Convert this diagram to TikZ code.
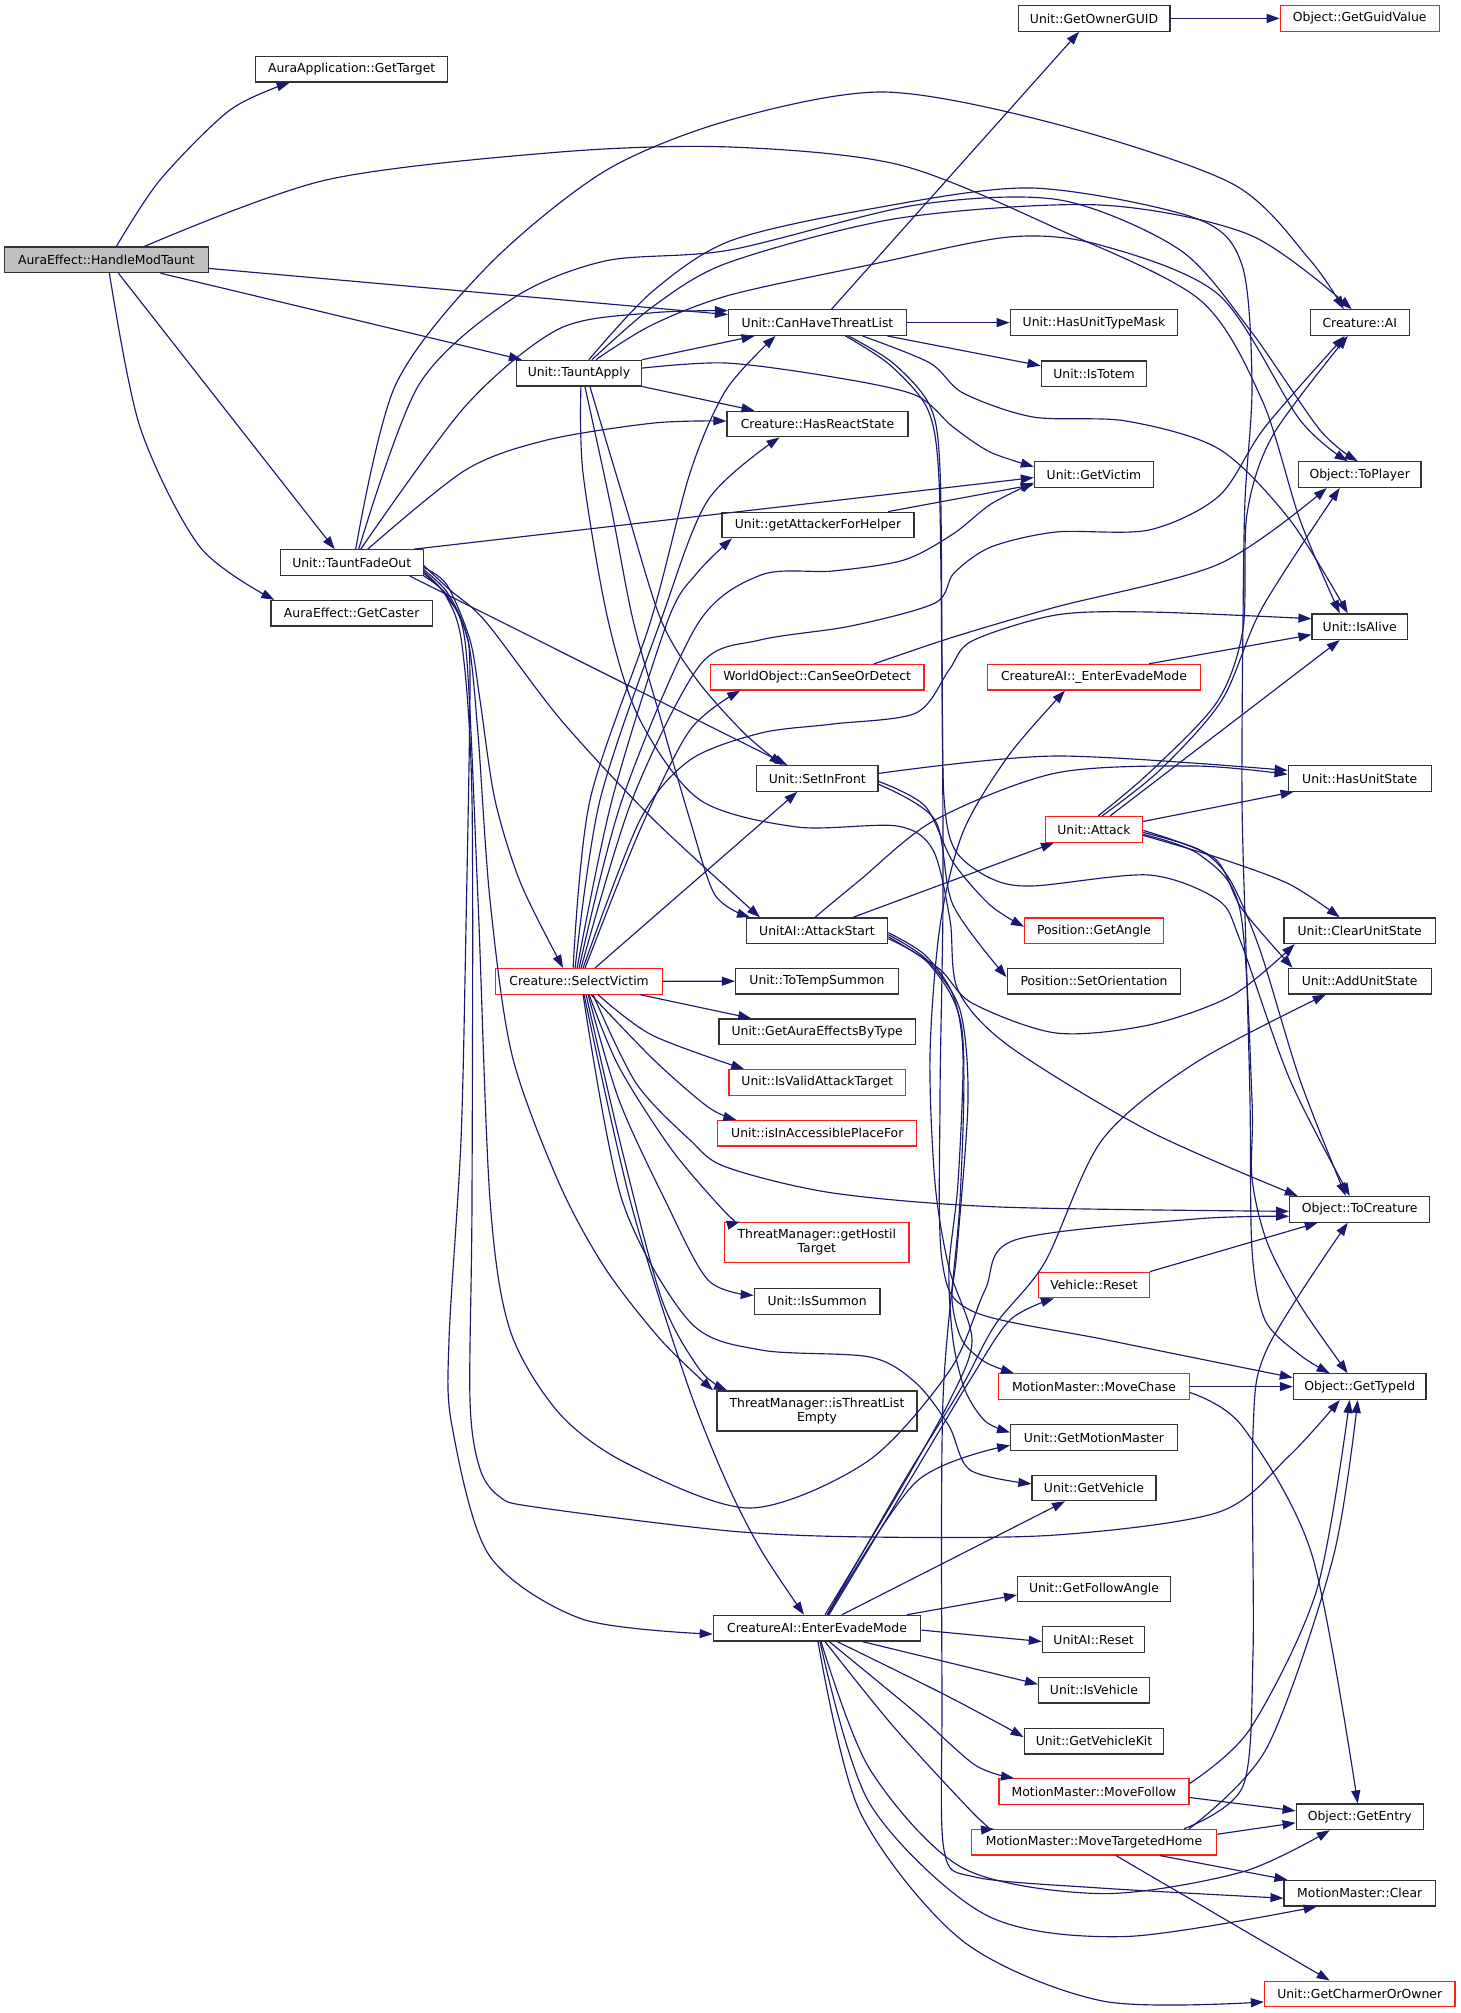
\documentclass[tikz,border=0pt]{standalone}
\usepackage{fontspec}
\setmainfont{DejaVu Sans}
\usetikzlibrary{arrows.meta}
\definecolor{edgec}{RGB}{25,25,112}
\definecolor{boxred}{RGB}{255,30,30}
\definecolor{boxgray}{RGB}{191,191,191}
\begin{document}
\begin{tikzpicture}[x=1pt,y=-1pt,
  fn/.style={draw=black!80,line width=1.2pt,fill=white,rectangle,inner sep=0pt,minimum height=25.6pt,font=\fontsize{12.4}{13.5}\selectfont,align=center},
  trunc/.style={fn,draw=boxred},
  e/.style={draw=edgec,line width=1.15pt,-{Triangle[length=13pt,width=9pt]}}]
\fill[white] (0,0) rectangle (1461,2013);
\useasboundingbox (0,0) rectangle (1461,2013);
% rank 0 and 1
\node[fn,fill=boxgray,minimum width=203.4pt] (H) at (106.4,259.8) {AuraEffect::HandleModTaunt};
\node[fn,minimum width=192.3pt] (gt) at (351.7,69.2) {AuraApplication::GetTarget};
\node[fn,minimum width=143pt] (tfo) at (351.7,562.6) {Unit::TauntFadeOut};
\node[fn,minimum width=161.5pt] (gc) at (351.7,613.2) {AuraEffect::GetCaster};
% rank 2
\node[fn,minimum width=125.2pt] (ta) at (578.9,373.1) {Unit::TauntApply};
\node[trunc,minimum width=166.7pt] (sv) at (579.1,981.3) {Creature::SelectVictim};
% rank 3
\node[fn,minimum width=178pt] (chtl) at (817.5,322.6) {Unit::CanHaveThreatList};
\node[fn,minimum width=181pt] (hrs) at (817.5,424) {Creature::HasReactState};
\node[fn,minimum width=192pt] (gafh) at (818,525) {Unit::getAttackerForHelper};
\node[trunc,minimum width=213.6pt] (csod) at (817.2,677.2) {WorldObject::CanSeeOrDetect};
\node[fn,minimum width=121.5pt] (sif) at (817.3,778.4) {Unit::SetInFront};
\node[fn,minimum width=141.5pt] (as) at (817,930.7) {UnitAI::AttackStart};
\node[fn,minimum width=163pt] (tts) at (817,981.2) {Unit::ToTempSummon};
\node[fn,minimum width=196.4pt] (gaebt) at (817.2,1031.7) {Unit::GetAuraEffectsByType};
\node[trunc,minimum width=176.4pt] (ivat) at (817.2,1082.5) {Unit::IsValidAttackTarget};
\node[trunc,minimum width=199pt] (iiapf) at (817.3,1133.2) {Unit::isInAccessiblePlaceFor};
\node[trunc,minimum width=184.4pt,minimum height=40pt] (ght) at (816.8,1242.3) {ThreatManager::getHostil\\Target};
\node[fn,minimum width=125.7pt] (issum) at (817.1,1301.3) {Unit::IsSummon};
\node[fn,minimum width=200pt,minimum height=40pt] (itle) at (817,1410.9) {ThreatManager::isThreatList\\Empty};
\node[fn,minimum width=207.5pt] (eem) at (817,1628.1) {CreatureAI::EnterEvadeMode};
% rank 4
\node[fn,minimum width=151.8pt] (gog) at (1094,18.4) {Unit::GetOwnerGUID};
\node[fn,minimum width=167.6pt] (hutm) at (1094,322.6) {Unit::HasUnitTypeMask};
\node[fn,minimum width=105.7pt] (totem) at (1094,373.7) {Unit::IsTotem};
\node[fn,minimum width=119.2pt] (gv) at (1094,474.6) {Unit::GetVictim};
\node[trunc,minimum width=212.7pt] (ueem) at (1094,677.2) {CreatureAI::\_EnterEvadeMode};
\node[trunc,minimum width=97.3pt] (attack) at (1094,829.4) {Unit::Attack};
\node[trunc,minimum width=138.7pt] (angle) at (1094,930.7) {Position::GetAngle};
\node[fn,minimum width=173.7pt] (orient) at (1094,981.2) {Position::SetOrientation};
\node[trunc,minimum width=110.8pt] (vreset) at (1094,1285) {Vehicle::Reset};
\node[trunc,minimum width=191pt] (chase) at (1094,1386.6) {MotionMaster::MoveChase};
\node[fn,minimum width=166.7pt] (gmm) at (1094,1437.4) {Unit::GetMotionMaster};
\node[fn,minimum width=124pt] (gveh) at (1094,1487.9) {Unit::GetVehicle};
\node[fn,minimum width=152.7pt] (gfa) at (1094,1589) {Unit::GetFollowAngle};
\node[fn,minimum width=102.4pt] (uareset) at (1093.6,1639.5) {UnitAI::Reset};
\node[fn,minimum width=110.8pt] (isveh) at (1094,1690.2) {Unit::IsVehicle};
\node[fn,minimum width=139.7pt] (gvk) at (1094,1741.1) {Unit::GetVehicleKit};
\node[trunc,minimum width=190pt] (follow) at (1094,1791.5) {MotionMaster::MoveFollow};
\node[trunc,minimum width=245.3pt] (mth) at (1094,1842.2) {MotionMaster::MoveTargetedHome};
% rank 5
\node[trunc,minimum width=158.8pt] (ggv) at (1359.7,18.4) {Object::GetGuidValue};
\node[fn,minimum width=99.2pt] (ai) at (1359.7,322.6) {Creature::AI};
\node[fn,minimum width=122.5pt] (toplayer) at (1359.7,474.6) {Object::ToPlayer};
\node[fn,minimum width=95.4pt] (alive) at (1359.7,626.7) {Unit::IsAlive};
\node[fn,minimum width=143pt] (hus) at (1359.7,778.4) {Unit::HasUnitState};
\node[fn,minimum width=151.3pt] (cus) at (1359.7,930.7) {Unit::ClearUnitState};
\node[fn,minimum width=143pt] (aus) at (1359.7,981.2) {Unit::AddUnitState};
\node[fn,minimum width=140.2pt] (tocre) at (1359.7,1209.3) {Object::ToCreature};
\node[fn,minimum width=132.7pt] (typeid) at (1359.7,1386.6) {Object::GetTypeId};
\node[fn,minimum width=127pt] (entry) at (1359.7,1816.8) {Object::GetEntry};
\node[fn,minimum width=151.3pt] (mmclear) at (1359.7,1893.2) {MotionMaster::Clear};
\node[trunc,minimum width=190.4pt] (gcoo) at (1359.7,1993.9) {Unit::GetCharmerOrOwner};

% ---- edges from HandleModTaunt
\draw[e] plot[smooth] coordinates {([xshift=10pt]H.north) (160,180) (230,110) ([xshift=-62pt]gt.south)};
\draw[e] plot[smooth] coordinates {([xshift=38pt]H.north) (326,180) (560,152) (730,147) (900,165) (1060,230) (1200,300) (1262,400) (1300,520) ([xshift=-20pt]alive.north)};
\draw[e] ([yshift=-8.6pt]H.east) -- ([yshift=8pt]chtl.west);
\draw[e] ([xshift=54pt]H.south) -- ([xshift=-57pt]ta.north);
\draw[e] ([xshift=12pt]H.south) -- ([xshift=-17pt]tfo.north);
\draw[e] plot[smooth] coordinates {([xshift=3pt]H.south) (140,427) (200,547) ([xshift=4pt]gc.north west)};

% ---- edges from TauntApply
\draw[e] (ta.north east) -- ([xshift=-63pt]chtl.south);
\draw[e] (ta.south east) -- ([xshift=-63pt]hrs.north);
\draw[e] plot[smooth] coordinates {([yshift=5pt]ta.east) (726,363) (833,377) (915,395) (953,427) (990,452) ([yshift=8pt]gv.west)};
\draw[e] plot[smooth] coordinates {([xshift=17pt]ta.north) (651.8,325) (730,295) (869,265) (1009,237) (1100,245) (1219,295) (1300,420) ([xshift=-12pt]toplayer.north)};
\draw[e] plot[smooth] coordinates {([xshift=13pt]ta.north) (655,305) (730,262) (900,218) (1100,205) (1250,235) ([xshift=-8pt]ai.north)};
\draw[e] plot[smooth] coordinates {([xshift=10pt]ta.north) (651.8,292) (730,241) (870,209) (1032,188) (1195,218) (1242,265) (1252,385) (1245,500) (1243,620) (1242,800) (1246,950) (1250,1100) (1252,1250) (1265,1320) (1300,1355) ([xshift=-30pt]typeid.north)};
\draw[e] plot[smooth] coordinates {([xshift=11pt]ta.south) (626,507) (661,620) (697,680) (744,733) ([xshift=-35pt]sif.north)};
\draw[e] plot[smooth] coordinates {([xshift=6pt]ta.south) (611,507) (633,620) (661,720) (690,820) (715,895) ([xshift=-67pt]as.north)};
\draw[e] plot[smooth] coordinates {([xshift=2pt]ta.south) (583,473) (608,620) (640,720) (700,800) (797,827) (897,826) (933,850) (950,920) (958,990) (1009,1046) (1149,1131) ([xshift=-62pt]tocre.north)};

% ---- edges from TauntFadeOut
\draw[e] plot[smooth] coordinates {([xshift=4pt]tfo.north) (395.7,384.6) (488.8,265) (605,171) (730,120) (883.6,92) (1056,124) (1232.8,184) (1310,260) ([xshift=-16pt]ai.north)};
\draw[e] plot[smooth] coordinates {([xshift=7pt]tfo.north) (419,384.6) (512,299) (605,261) (730,250) (916,205) (1060,200) (1180,250) (1250,330) (1320,430) ([xshift=-2pt]toplayer.north)};
\draw[e] plot[smooth] coordinates {([xshift=9pt]tfo.north) (465.5,406) (558.7,329) (650,313) ([yshift=12pt]chtl.west)};
\draw[e] plot[smooth] coordinates {([xshift=16pt]tfo.north) (465.5,470) (547,440) (654,423) ([yshift=3pt]hrs.west)};
\draw[e] ([xshift=62pt]tfo.north) -- ([yshift=-3pt]gv.west);
\draw[e] ([xshift=58pt]tfo.south) -- ([xshift=-30pt]sif.north);
\draw[e] plot[smooth] coordinates {([yshift=-5pt]tfo.east) (447,585) (470,640) (480,700) (495,800) (521,884) ([xshift=-16pt]sv.north)};
\draw[e] plot[smooth] coordinates {([yshift=-3pt]tfo.east) (450,590) (486,622) (561,720) (654,820) ([xshift=-57pt]as.north)};
\draw[e] plot[smooth] coordinates {(tfo.south east) (447,595) (468,640) (478,734) (490,900) (512,1055) (559,1183) (605,1268) (661,1340) ([xshift=-104pt]itle.north)};
\draw[e] plot[smooth] coordinates {([yshift=-7pt]tfo.east) (447,592) (465,630) (470,680) (466,926) (461,1140) (449,1340) (452,1426) (489,1555) (582,1619) ([yshift=-6pt]eem.west)};
\draw[e] plot[smooth] coordinates {([yshift=-9pt]tfo.east) (446,596) (462,645) (472,800) (472,1200) (470,1400) (480,1469) (500,1497) (535,1507) (730,1531) (870,1537) (1056,1535) (1219,1512) (1289,1456) ([xshift=-20pt]typeid.south)};
\draw[e] plot[smooth] coordinates {([yshift=-11pt]tfo.east) (448,598) (466,650) (478,900) (490,1200) (510,1330) (559,1413) (628,1464) (750,1508) (868,1461) (950,1370) (985,1290) (1015,1240) (1195,1219) ([yshift=-7pt]tocre.west)};

% ---- edges from SelectVictim
\draw[e] plot[smooth] coordinates {([xshift=-6pt]sv.north) (590,800) (651,620) (690,473) (726,390) ([xshift=-42pt]chtl.south)};
\draw[e] plot[smooth] coordinates {([xshift=-4pt]sv.north) (600,800) (661,620) (708,500) ([xshift=-38pt]hrs.south)};
\draw[e] plot[smooth] coordinates {([xshift=-2pt]sv.north) (612,800) (668,620) (697,573) ([xshift=-86pt]gafh.south)};
\draw[e] plot[smooth] coordinates {(sv.north) (622,800) (697,625) (761,575) (833,571) (904,560) (953,534) (991,504) ([yshift=-8pt]gv.west)};
\draw[e] plot[smooth] coordinates {([xshift=2pt]sv.north) (632,800) (700,665) (760,640) (851,626) (935,603) (954,573) (991,547) (1056,532) (1149,530) (1219,496) (1265,427) ([xshift=-15pt]ai.south)};
\draw[e] plot[smooth] coordinates {([xshift=4pt]sv.north) (640,820) (690,760) (761,733) (833,724) (916,713) (949,670) (972,641) (1056,615) (1149,612) ([yshift=8pt]alive.west)};
\draw[e] plot[smooth] coordinates {([xshift=6pt]sv.north) (640,830) (690,730) ([xshift=-77pt]csod.south)};
\draw[e] ([xshift=16pt]sv.north) -- ([xshift=-20pt]sif.south);
\draw[e] (sv.east) -- (tts.west);
\draw[e] ([xshift=61pt]sv.south) -- ([xshift=-66pt]gaebt.north);
\draw[e] plot[smooth] coordinates {([xshift=19pt]sv.south) (651.8,1035) ([xshift=-73pt]ivat.north)};
\draw[e] plot[smooth] coordinates {([xshift=12pt]sv.south) (654,1060) (708,1107) ([xshift=-81pt]iiapf.north)};
\draw[e] plot[smooth] coordinates {([xshift=10pt]sv.south) (619,1067) (672,1150) (726,1213) ([xshift=-77pt]ght.north)};
\draw[e] plot[smooth] coordinates {([xshift=9pt]sv.south) (619,1100) (665,1200) (708,1280) ([yshift=6pt]issum.west)};
\draw[e] plot[smooth] coordinates {([xshift=7pt]sv.south) (622,1150) (662,1300) (700,1370) ([xshift=-90pt]itle.north)};
\draw[e] plot[smooth] coordinates {([xshift=5pt]sv.south) (630,1200) (686,1380) (726,1481) (761,1550) ([xshift=-13pt]eem.north)};
\draw[e] plot[smooth] coordinates {([xshift=4pt]sv.south) (622,1200) (690,1322) (761,1350) (870,1357) (916,1383) (949,1426) (970,1470) ([yshift=4pt]gveh.west)};
\draw[e] plot[smooth] coordinates {([xshift=14pt]sv.south) (636,1083) (690,1140) (726,1167) (833,1193) (1000,1207) ([yshift=-2pt]tocre.west)};

% ---- edges from CanHaveThreatList
\draw[e] (chtl.east) -- (hutm.west);
\draw[e] ([xshift=70pt]chtl.south) -- ([yshift=8pt]totem.west);
\draw[e] ([xshift=14pt]chtl.north) -- ([xshift=-15pt]gog.south);
\draw[e] plot[smooth] coordinates {([xshift=45pt]chtl.south) (930,363) (963,393) (1033,417) (1126,421) (1219,449) (1290,520) ([xshift=-12pt]alive.north)};
\draw[e] plot[smooth] coordinates {([xshift=31pt]chtl.south) (893,363) (930,406) (940,470) (942,670) (943,900) (940,1100) (942,1260) (972,1311) (1107,1340) ([yshift=9pt]typeid.west)};
\draw[e] plot[smooth] coordinates {([xshift=28pt]chtl.south) (890,365) (928,410) (939,480) (942,670) (944,798) (955,850) (990,878) (1032,886) (1149,875) (1218,900) (1240,940) (1290,1080) ([xshift=-10pt]tocre.north)};

% ---- misc
\draw[e] (gog.east) -- (ggv.west);
\draw[e] ([xshift=70pt]gafh.north) -- ([yshift=-10pt]gv.west);
\draw[e] plot[smooth] coordinates {([xshift=57pt]csod.north) (953.5,637) (1056,607) (1219,564) ([xshift=-33pt]toplayer.south)};

% ---- SetInFront
\draw[e] plot[smooth] coordinates {([yshift=5pt]sif.east) (1056,756) ([yshift=8pt]hus.west)};
\draw[e] plot[smooth] coordinates {([yshift=-3pt]sif.east) (925,806) (953,862) (990,905) ([yshift=4pt]angle.west)};
\draw[e] plot[smooth] coordinates {([yshift=-6pt]sif.east) (935,820) (953,905) ([yshift=4pt]orient.west)};

% ---- AttackStart
\draw[e] ([xshift=36pt]as.north) -- ([xshift=-40pt]attack.south);
\draw[e] plot[smooth] coordinates {([xshift=-2pt]as.north) (860,880) (935,820) (1056,773) (1195,766) ([yshift=4pt]hus.west)};
\draw[e] plot[smooth] coordinates {([yshift=-6pt]as.east) (939.5,969) (972,1003) (1056,1033) (1149,1025) (1233,995) ([xshift=-65pt]cus.south)};
\draw[e] plot[smooth] coordinates {([yshift=-2pt]as.east) (925,955) (953,995) (963,1055) (958,1183) (949,1268) (953,1340) (965,1390) (985,1421) ([yshift=5pt]gmm.west)};
\draw[e] plot[smooth] coordinates {([yshift=-4pt]as.east) (927,960) (960,1010) (968,1100) (957,1250) (952,1300) (962,1340) (985,1362) ([xshift=-80pt]chase.north)};
\draw[e] plot[smooth] coordinates {([yshift=-8pt]as.east) (930,965) (962,1030) (960,1200) (943,1400) (942,1700) (944,1850) (975,1877) (1100,1888) ([yshift=-5pt]mmclear.west)};

% ---- Attack
\draw[e] plot[smooth] coordinates {([xshift=4pt]attack.north) (1150,772) (1217,702) (1243,629) (1247,514) (1273,435) ([xshift=-12pt]ai.south)};
\draw[e] plot[smooth] coordinates {([xshift=8pt]attack.north) (1160,770) (1222,700) (1262,608) ([xshift=-20pt]toplayer.south)};
\draw[e] ([xshift=16pt]attack.north) -- ([xshift=-20pt]alive.south);
\draw[e] ([yshift=8pt]attack.east) -- ([xshift=6pt]hus.south west);
\draw[e] plot[smooth] coordinates {([yshift=-6pt]attack.east) (1219,858) (1289,884) ([xshift=-20pt]cus.north)};
\draw[e] plot[smooth] coordinates {([yshift=-1pt]attack.east) (1214,858) (1242,909) ([xshift=5pt]aus.north west)};
\draw[e] plot[smooth] coordinates {([yshift=-3pt]attack.east) (1200,850) (1230,880) (1260,950) (1300,1080) ([xshift=-14pt]tocre.north)};
\draw[e] plot[smooth] coordinates {([yshift=-5pt]attack.east) (1200,855) (1240,910) (1252,1100) (1252,1178) (1267,1242) (1300,1305) ([xshift=-12pt]typeid.north)};

% ---- _EnterEvadeMode
\draw[e] ([xshift=55pt]ueem.north) -- ([yshift=-8pt]alive.west);

% ---- EnterEvadeMode
\draw[e] plot[smooth] coordinates {([xshift=8pt]eem.north) (900,1490) (950,1400) (972,1340) (949,1268) (935,1183) (930,1055) (940,926) (963,832) (1009,755) ([xshift=-29pt]ueem.south)};
\draw[e] plot[smooth] coordinates {([xshift=10pt]eem.north) (904,1481) (960,1390) (995,1325) (1045,1262) (1102,1140) (1195,1063) ([xshift=-34pt]aus.south)};
\draw[e] plot[smooth] coordinates {([xshift=12pt]eem.north) (910,1480) (970,1380) (1010,1320) ([xshift=-40pt]vreset.south)};
\draw[e] plot[smooth] coordinates {([xshift=11pt]eem.north) (916,1482) ([yshift=-8pt]gmm.west)};
\draw[e] ([xshift=25pt]eem.north) -- ([xshift=-29pt]gveh.south);
\draw[e] ([xshift=90pt]eem.north) -- ([yshift=-6pt]gfa.west);
\draw[e] ([yshift=-2pt]eem.east) -- ([yshift=-2pt]uareset.west);
\draw[e] ([xshift=45pt]eem.south) -- ([yshift=6pt]isveh.west);
\draw[e] plot[smooth] coordinates {([xshift=20pt]eem.south) (939.5,1692) (1000,1724) ([yshift=4pt]gvk.west)};
\draw[e] plot[smooth] coordinates {([xshift=12pt]eem.south) (916,1713) (975,1765) ([xshift=-80pt]follow.north)};
\draw[e] plot[smooth] coordinates {([xshift=8pt]eem.south) (893,1726) (975,1815) ([xshift=-100pt]mth.north)};
\draw[e] plot[smooth] coordinates {([xshift=4pt]eem.south) (869.7,1769) (962.8,1868) (1102.5,1893.6) (1242,1872) ([xshift=-30pt]entry.south)};
\draw[e] plot[smooth] coordinates {([xshift=3pt]eem.south) (869.7,1803.5) (986,1915) (1125.7,1936.5) ([xshift=-43pt]mmclear.south)};
\draw[e] plot[smooth] coordinates {([xshift=1pt]eem.south) (860,1812) (962.8,1941) (1102.5,2001) ([yshift=-8pt]gcoo.west)};

% ---- motion master etc
\draw[e] (chase.east) -- (typeid.west);
\draw[e] plot[smooth] coordinates {([yshift=-6pt]chase.east) (1242,1426) (1312,1555) ([xshift=-2pt]entry.north)};
\draw[e] plot[smooth] coordinates {([yshift=8pt]follow.east) (1250,1729) (1316.7,1590) ([xshift=-10pt]typeid.south)};
\draw[e] ([yshift=-6pt]follow.east) -- ([yshift=6pt]entry.west);
\draw[e] plot[smooth] coordinates {([xshift=95pt]mth.north) (1266.7,1748) (1333,1558) ([xshift=-2pt]typeid.south)};
\draw[e] plot[smooth] coordinates {([xshift=90pt]mth.north) (1243,1786) (1253,1653) (1253,1432) (1267,1349) ([xshift=-12pt]tocre.south)};
\draw[e] ([yshift=8pt]mth.east) -- ([yshift=-6pt]entry.west);
\draw[e] ([xshift=66pt]mth.south) -- ([xshift=4pt]mmclear.north west);
\draw[e] ([xshift=22pt]mth.south) -- ([xshift=-30pt]gcoo.north);
\draw[e] (vreset.north east) -- ([xshift=-42pt]tocre.south);
\end{tikzpicture}
\end{document}
